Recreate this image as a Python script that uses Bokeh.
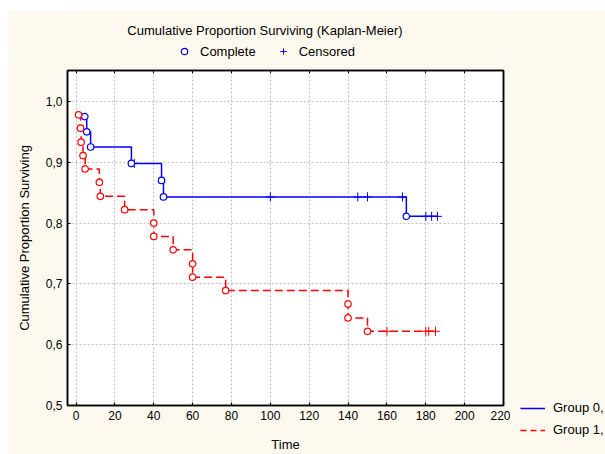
from bokeh.plotting import figure
from bokeh.models import (FixedTicker, LinearAxis, Range1d, Legend, LegendItem, Label)
from bokeh.layouts import column, row
from bokeh.embed import file_html
from bokeh.resources import INLINE

# ---- data ----
blue_event_t = [4.5, 5.5, 7.5, 28.5, 44, 45, 170]
blue_event_s = [0.975, 0.950, 0.925, 0.898, 0.870, 0.843, 0.811]
blue_censor_t = [30, 100, 145, 150, 168, 180, 183, 186]
blue_censor_s = [0.898, 0.843, 0.843, 0.843, 0.843, 0.811, 0.811, 0.811]
blue_end = 186

red_event_t = [1.3, 2.3, 2.6, 3.6, 4.7, 12, 12.5, 25, 40, 40, 50, 60, 60, 77, 140, 140, 150]
red_event_s = [0.978, 0.956, 0.933, 0.911, 0.889, 0.867, 0.844, 0.822, 0.800, 0.778,
               0.756, 0.733, 0.711, 0.689, 0.667, 0.644, 0.622]
red_censor_t = [160, 180, 181.5, 185]
red_censor_s = [0.622, 0.622, 0.622, 0.622]
red_end = 185

x_ticks = [0, 20, 40, 60, 80, 100, 120, 140, 160, 180, 200, 220]
y_ticks = [0.5, 0.6, 0.7, 0.8, 0.9, 1.0]
y_tick_labels = ["0,5", "0,6", "0,7", "0,8", "0,9", "1,0"]

TITLE = "Cumulative Proportion Surviving (Kaplan-Meier)"
FONT = "Liberation Sans"
CREAM = "#fdf9ef"
BLUE = "#0000ff"
RED = "#ff0000"
NAN = [float("nan")]

BORDER_L, BORDER_R = 59, 7


def style_legend(lg, gw, gh, so, sp):
    lg.glyph_width = gw
    lg.glyph_height = gh
    lg.label_height = 14
    lg.label_standoff = so
    lg.spacing = sp
    lg.padding = 0
    lg.margin = 0
    lg.border_line_alpha = 0
    lg.background_fill_alpha = 0
    lg.label_text_font = FONT
    lg.label_text_font_size = "13px"
    lg.label_text_color = "black"


def blank_fig(w, h, bl=0, br=0):
    f = figure(width=w, height=h, output_backend="svg", toolbar_location=None,
               x_range=Range1d(0, w - bl - br), y_range=Range1d(0, h),
               min_border=0, min_border_left=bl, min_border_right=br,
               min_border_top=0, min_border_bottom=0)
    f.axis.visible = False
    f.grid.visible = False
    f.outline_line_color = None
    f.background_fill_color = CREAM
    f.border_fill_color = CREAM
    return f


# ---- top strip: title + marker key (frame aligned with the plot frame) ----
top_fig = blank_fig(502, 50, BORDER_L, BORDER_R)
top_fig.add_layout(Label(x=197.5, y=30, text=TITLE, text_font=FONT, text_font_size="13px",
                         text_align="center", text_baseline="middle", text_color="black"))
k_circle = top_fig.scatter(NAN, NAN, marker="circle", size=5, fill_color="white",
                           line_color=BLUE, line_width=1.2)
k_cross = top_fig.scatter(NAN, NAN, marker="cross", size=9, line_color=BLUE, line_width=1)
key = Legend(items=[LegendItem(label="Complete", renderers=[k_circle]),
                    LegendItem(label="Censored", renderers=[k_cross])],
             orientation="horizontal", location=(109, 0))
style_legend(key, 16, 18, 8, 19)
top_fig.add_layout(key)

# ---- main plot ----
p = figure(width=502, height=394, output_backend="svg", toolbar_location=None,
           x_range=Range1d(-4.4, 220), y_range=Range1d(0.5, 1.0508),
           min_border_left=BORDER_L, min_border_top=10, min_border_right=BORDER_R,
           min_border_bottom=48)
p.border_fill_color = CREAM
p.background_fill_color = "white"
p.outline_line_color = "black"
p.outline_line_width = 1.5

p.xaxis.ticker = FixedTicker(ticks=x_ticks)
p.yaxis.ticker = FixedTicker(ticks=y_ticks)
p.yaxis.major_label_overrides = {t: l for t, l in zip(y_ticks, y_tick_labels)}
for ax in (p.xaxis[0], p.yaxis[0]):
    ax.major_label_text_font = FONT
    ax.major_label_text_font_size = "12px"
    ax.major_label_text_color = "black"
    ax.axis_label_text_font = FONT
    ax.axis_label_text_font_size = "13px"
    ax.axis_label_text_font_style = "normal"
    ax.axis_label_text_color = "black"
    ax.minor_tick_line_color = None
    ax.major_tick_in = 3
    ax.major_tick_out = 0
    ax.axis_line_width = 1.5
    ax.major_tick_line_width = 1.2
p.xaxis.axis_label = "Time"
p.yaxis.axis_label = "Cumulative Proportion Surviving"
p.xaxis.major_label_standoff = 5
p.xaxis.axis_label_standoff = 14
p.yaxis.major_label_standoff = 5
p.yaxis.axis_label_standoff = 11

top_ax = LinearAxis(ticker=FixedTicker(ticks=x_ticks), major_label_text_font_size="0px",
                    major_tick_in=3, major_tick_out=0, minor_tick_line_color=None,
                    axis_line_width=1.5)
right_ax = LinearAxis(ticker=FixedTicker(ticks=y_ticks), major_label_text_font_size="0px",
                      major_tick_in=3, major_tick_out=0, minor_tick_line_color=None,
                      axis_line_width=1.5)
p.add_layout(top_ax, "above")
p.add_layout(right_ax, "right")

p.grid.grid_line_color = "#c0c0c0"
p.grid.grid_line_dash = "2 2"
p.xgrid.ticker = FixedTicker(ticks=x_ticks)
p.ygrid.ticker = FixedTicker(ticks=y_ticks)

bx = blue_event_t + [blue_end]
by = blue_event_s + [blue_event_s[-1]]
rx = red_event_t + [red_end]
ry = red_event_s + [red_event_s[-1]]

p.step(bx, by, mode="after", line_color=BLUE, line_width=1.5)
p.step(rx, ry, mode="after", line_color=RED, line_width=1.5, line_dash="8 4")
p.scatter(blue_censor_t, blue_censor_s, marker="cross", size=9, line_color=BLUE, line_width=1)
p.scatter(red_censor_t, red_censor_s, marker="cross", size=9, line_color=RED, line_width=1)
p.scatter(blue_event_t, blue_event_s, marker="circle", size=6.5, fill_color="white",
          line_color=BLUE, line_width=1.2)
p.scatter(red_event_t, red_event_s, marker="circle", size=6.5, fill_color="white",
          line_color=RED, line_width=1.2)

# ---- right strip: group legend ----
side_fig = blank_fig(95, 444)
g0 = side_fig.line(NAN, NAN, line_color=BLUE, line_width=1.5)
g1 = side_fig.line(NAN, NAN, line_color=RED, line_width=1.5, line_dash="6 4")
group_leg = Legend(items=[LegendItem(label="Group 0,", renderers=[g0]),
                          LegendItem(label="Group 1,", renderers=[g1])],
                   location=(10, 17))
style_legend(group_leg, 25, 14, 8, 7)
side_fig.add_layout(group_leg)

layout = row(column(top_fig, p, spacing=0), side_fig, spacing=0)
layout.margin = (10, 0, 0, 8)

open("out.html", "w").write(file_html(layout, INLINE))
